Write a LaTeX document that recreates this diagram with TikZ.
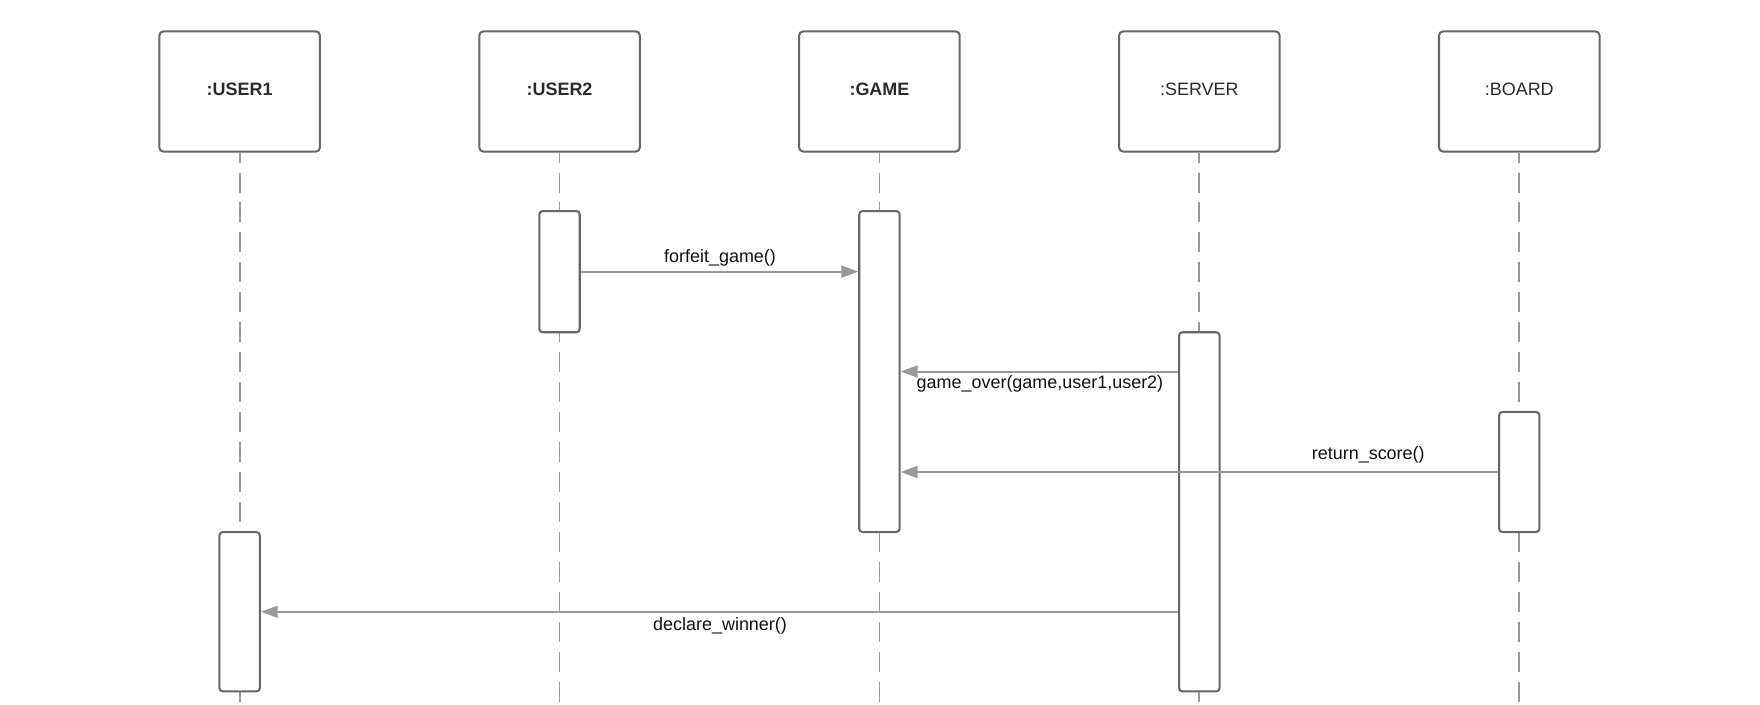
\documentclass[tikz,border=0pt]{standalone}
\usepackage{fontspec}
\setmainfont{Liberation Sans}
\usetikzlibrary{arrows.meta}
\definecolor{boxc}{HTML}{666666}
\definecolor{linec}{HTML}{999999}
\definecolor{hdtxt}{HTML}{2A2A2A}
\definecolor{msgtxt}{HTML}{111111}
\begin{document}
\begin{tikzpicture}[x=1pt,y=-1pt,
  head/.style={draw=boxc, line width=1.8pt, rounded corners=3.5pt, minimum width=143pt, minimum height=107pt, inner sep=0pt, text=hdtxt, text height=11.6pt, text depth=4pt},
  hfont/.style={font=\fontsize{16}{19}\selectfont},
  hbold/.style={font=\fontsize{16}{19}\selectfont\bfseries},
  act/.style={draw=boxc, line width=1.8pt, rounded corners=3pt, fill=white, minimum width=36pt, inner sep=0pt},
  life/.style={draw=linec, line width=1.6pt, dash pattern=on 17.8pt off 8.9pt, dash phase=8.9pt},
  msg/.style={draw=linec, line width=1.8pt, -{Triangle[length=15pt,width=10.5pt]}},
  lbl/.style={font=\fontsize{16}{19}\selectfont, text=msgtxt, inner sep=0pt, anchor=base}]
\useasboundingbox (0,0) rectangle (1568,627.2);

% heads
\node[head,hbold] (u1) at (213.5,81.5) {:USER1};
\node[head,hbold] (u2) at (498.5,81.5) {:USER2};
\node[head,hbold] (g)  at (783.5,81.5) {:GAME};
\node[head,hfont] (s)  at (1068.5,81.5) {:SERVER};
\node[head,hfont] (b)  at (1353.5,81.5) {:BOARD};

% lifeline ends
\coordinate (e1) at (213.5,625);
\coordinate (e2) at (498.5,625);
\coordinate (e3) at (783.5,625);
\coordinate (e4) at (1068.5,625);
\coordinate (e5) at (1353.5,625);

\draw[life] (u1.south) -- (e1);
\draw[life] (u2.south) -- (e2);
\draw[life] (g.south) -- (e3);
\draw[life] (s.south) -- (e4);
\draw[life] (b.south) -- (e5);

% activations
\node[act, minimum height=108pt] (a2) at (498.5,242) {};
\node[act, minimum height=286pt] (a3) at (783.5,331) {};
\node[act, minimum height=320pt] (a4) at (1068.5,456) {};
\node[act, minimum height=107pt] (a5) at (1353.5,420.5) {};
\node[act, minimum height=142pt] (a1) at (213.5,545) {};

% messages
\draw[msg] (a2.east) -- (a2.east -| a3.west);
\draw[msg] (a4.west |- a3.east) -- (a3.east);
\draw[msg] (a5.west) -- (a5.west -| a3.east);
\draw[msg] (a1.east -| a4.west) -- (a1.east);

% labels
\node[lbl] (t1) at (641.5,234) {forfeit\_game()};
\node[lbl] (t2) at (926.5,346) {game\_over(game,user1,user2)};
\node[lbl] (t3) at (1219,409.5) {return\_score()};
\node[lbl] (t4) at (641.5,562) {declare\_winner()};
\end{tikzpicture}
\end{document}
